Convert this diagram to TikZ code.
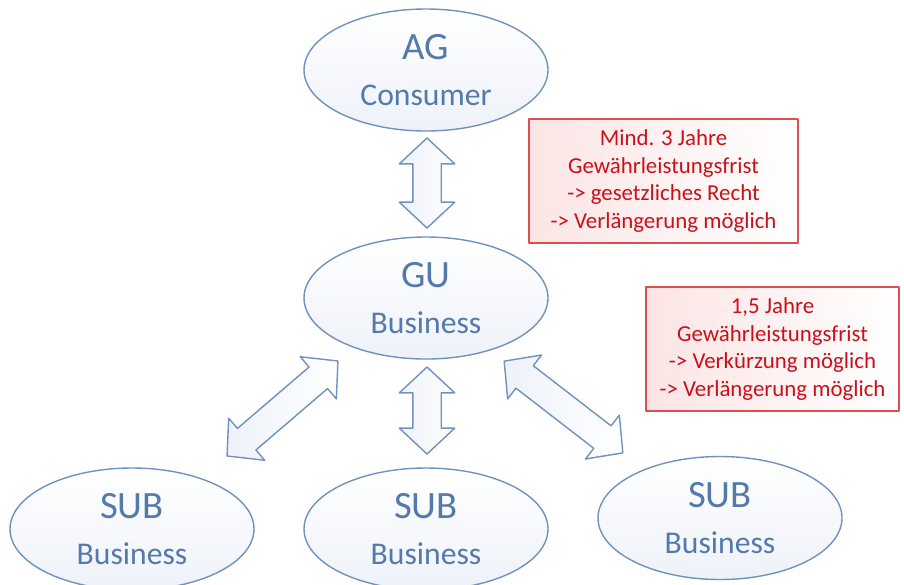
\documentclass[tikz,border=0pt]{standalone}
\usepackage{fontspec}
\setmainfont{Carlito}
\usepackage{xcolor}
\usepackage{tikz}
\usetikzlibrary{shapes.geometric,shapes.arrows}

\definecolor{partyline}{RGB}{112,146,190}
\definecolor{partytext}{RGB}{84,122,172}
\definecolor{partyfill}{RGB}{238,242,249}
\definecolor{noteline}{RGB}{222,78,78}
\definecolor{notetext}{RGB}{204,16,26}
\definecolor{notefill}{RGB}{252,228,228}

\begin{document}
\begin{tikzpicture}[line join=round,
  party/.style={ellipse, draw=partyline, line width=0.8pt, top color=white, bottom color=partyfill,
    minimum width=4.88cm, minimum height=2.44cm, inner sep=0pt, text=partytext, align=center,
    font=\fontsize{18}{26}\selectfont},
  dblarrow/.style={double arrow, draw=partyline, line width=0.8pt, left color=partyfill, right color=white,
    inner xsep=0pt, inner ysep=0.27cm, double arrow head extend=0.27cm, double arrow tip angle=94},
  note/.style={rectangle, draw=noteline, line width=0.6pt, left color=notefill, right color=white,
    text=notetext, align=center, inner sep=0pt, font=\fontsize{13}{15.6}\selectfont}]
  \useasboundingbox (0,0) rectangle (18.08,-11.68);
  % parties
  \coordinate (AGc) at (8.52,-1.40);
  \coordinate (GUc) at (8.52,-5.96);
  \coordinate (S1c) at (2.64,-10.58);
  \coordinate (S2c) at (8.52,-10.58);
  \coordinate (S3c) at (14.40,-10.36);
  \node[party] (ag) at (AGc) {{\fontsize{22}{26}\selectfont AG}\\Consumer};
  \node[party] (gu) at (GUc) {{\fontsize{22}{26}\selectfont GU}\\Business};
  \node[party] (sub1) at (S1c) {{\fontsize{22}{26}\selectfont SUB}\\Business};
  \node[party] (sub2) at (S2c) {{\fontsize{22}{26}\selectfont SUB}\\Business};
  \node[party, minimum height=2.46cm] (sub3) at (S3c) {{\fontsize{22}{26}\selectfont SUB}\\Business};
  % block arrows
  \node[dblarrow, minimum height=1.80cm, rotate=90] (agGu) at (8.54,-3.66) {};
  \node[dblarrow, minimum height=1.74cm, rotate=90] (guSub2) at (8.54,-8.21) {};
  \node[dblarrow, minimum height=2.92cm, rotate=40.6] (guSub1) at (5.65,-8.17) {};
  \node[dblarrow, minimum height=3.00cm, rotate=-37.7] (guSub3) at (11.27,-8.14) {};
  % notes
  \node[note, minimum width=5.38cm, minimum height=2.48cm] (noteAg) at (13.27,-3.62)
    {Mind. 3 Jahre\\Gewährleistungsfrist\\-> gesetzliches Recht\\-> Verlängerung möglich};
  \node[note, minimum width=5.06cm, minimum height=2.48cm] (noteSub) at (15.45,-6.98)
    {1,5 Jahre\\Gewährleistungsfrist\\-> Verkürzung möglich\\-> Verlängerung möglich};
\end{tikzpicture}
\end{document}
